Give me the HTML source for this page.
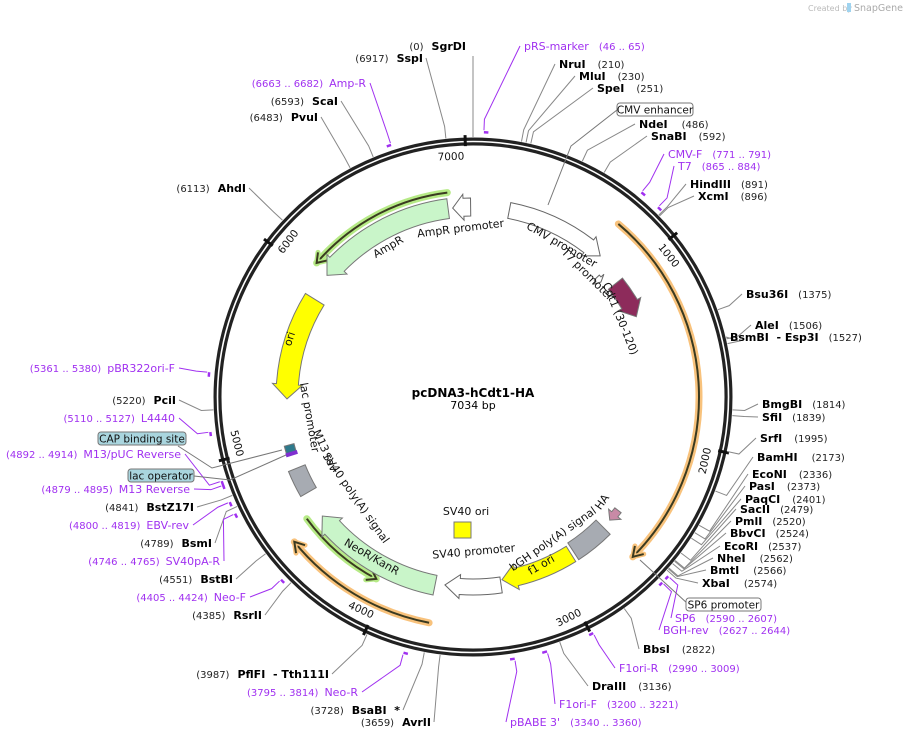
<!DOCTYPE html>
<html><head><meta charset="utf-8"><style>
html,body{margin:0;padding:0;background:#fff;}
svg{display:block;font-family:"DejaVu Sans","Liberation Sans",sans-serif;}
.en{font-weight:bold;font-size:11px;fill:#000}
.ep{font-size:10px;fill:#222}
.pn{font-size:11px;fill:#a030f0}
.pp{font-size:10px;fill:#a030f0}
.fl{font-size:11px;fill:#111}
</style></head><body>
<svg id="map" width="905" height="743" viewBox="0 0 905 743" xmlns="http://www.w3.org/2000/svg">
<text x="808" y="11" font-size="8" fill="#bbb">Created by</text>
<rect x="847" y="3" width="4" height="9" fill="#9fd3ef"/>
<text x="854" y="11" font-size="9.5" fill="#aaa">SnapGene</text>
<g id="g"></g>
</svg>
<script>
const TOTAL = 7034;
const CX = 473, CY = 397;
// tick labels
const tickValues = [1000, 2000, 3000, 4000, 5000, 6000, 7000];
// features
const featNames = ["CMV promoter","T7 promoter","Cdt1 (30-120)","HA","bGH poly(A) signal","f1 ori","SV40 promoter","NeoR/KanR","SV40 poly(A) signal","lac promoter","ori","AmpR","AmpR promoter"];
const featStart = [215, 899, 1006, 2501, 2638, 2892, 3351, 3740, 4689, 4930, 5895, 6887, 7020];
const featEnd   = [821, 939, 1247, 2579, 2872, 3341, 3683, 4527, 4846, 4990, 5264, 6053, 6914];
const featRadius = [190, 172, 182, 184, 184, 185, 190, 192, 190, 190, 186, 190, 190];
const featWidth = [16, 7, 18, 8, 20, 18, 16, 20, 18, 10, 22, 20, 18];
const featFill = ["#fff","#fff","#8d2b5b","#c88aa6","#a7abb2","#ffff00","#fff","#c9f5c9","#a7abb2","#2e7a8c","#ffff00","#c9f5c9","#fff"];
const featArrow = [1, 1, 1, 1, 0, 1, 1, 1, 0, 0, 1, 1, 1];
// ORFs
const orfStart = [782, 3732, 6894, 4568];
const orfEnd   = [2638, 4513, 6069, 4064];
const orfRadius = [226, 230, 206, 206];
const orfColor = ["#f8c27c", "#f8c27c", "#b6ea86", "#b6ea86"];
// enzymes
const enzNames = ["SgrDI","SspI","ScaI","PvuI","AhdI","PciI","BstZ17I","BsmI","BstBI","RsrII","PflFI  - Tth111I","BsaBI  *","AvrII","NruI","MluI","SpeI","NdeI","SnaBI","HindIII","XcmI","Bsu36I","AleI","BsmBI  - Esp3I","BmgBI","SfiI","SrfI","BamHI","EcoNI","PasI","PaqCI","SacII","PmlI","BbvCI","EcoRI","NheI","BmtI","XbaI","BbsI","DraIII"];
const enzPos = [0,6917,6593,6483,6113,5220,4841,4789,4551,4385,3987,3728,3659,210,230,251,486,592,891,896,1375,1506,1527,1814,1839,1995,2173,2336,2373,2401,2479,2520,2524,2537,2562,2566,2574,2822,3136];
// primers
const primNames = ["Amp-R","pBR322ori-F","L4440","M13/pUC Reverse","M13 Reverse","EBV-rev","SV40pA-R","Neo-F","Neo-R","pRS-marker","CMV-F","T7","SP6","BGH-rev","F1ori-R","F1ori-F","pBABE 3'"];
const primStart = [6663,5361,5110,4892,4879,4800,4746,4405,3795,46,771,865,2590,2627,2990,3200,3340];
const primEnd = [6682,5380,5127,4914,4895,4819,4765,4424,3814,65,791,884,2607,2644,3009,3221,3360];

// ---- layout (label placement, not data) ----
const enzLX = [466,423,338,318,246,176,194,212,233,262,329,400,431,559,579,597,639,651,690,698,746,755,730,762,762,760,757,752,749,745,740,735,730,724,717,710,702,643,592];
const enzLY = [50,62,105,121,192,404,511,547,583,619,678,714,726,68,80,92,128,140,188,200,298,329,341,408,421,442,461,478,490,503,513,525,537,550,562,574,587,653,690];
const enzNumGap = [0,0,0,0,0,0,0,0,0,0,0,0,0,12,12,12,14,12,10,12,10,10,10,10,10,12,14,12,12,12,10,10,10,10,14,14,14,12,12];
const primLX = [366,175,175,181,190,189,220,246,358,524,668,678,675,663,619,559,510];
const primLY = [87,372,422,458,493,529,565,601,696,50,158,170,622,634,672,708,726];

const NS = "http://www.w3.org/2000/svg";
const G = document.getElementById('g');
function ang(p){ return p / TOTAL * 360; }
function pt(r, a){ const t = a * Math.PI / 180; return [CX + r * Math.sin(t), CY - r * Math.cos(t)]; }
function mk(tag, attrs, parent){ const e = document.createElementNS(NS, tag); for (const k in attrs) e.setAttribute(k, attrs[k]); (parent || G).appendChild(e); return e; }
function arcD(r, a1, a2){ const p1 = pt(r, a1), p2 = pt(r, a2); const large = Math.abs(a2 - a1) > 180 ? 1 : 0; const sw = a2 > a1 ? 1 : 0; return `M${p1[0]},${p1[1]} A${r},${r} 0 ${large} ${sw} ${p2[0]},${p2[1]}`; }
function ccwFix(s, e){ // interpret direction by array order
  return [ang(s), ang(e)];
}

// ring
const ring = mk('circle', {cx: CX, cy: CY, r: 255.5, fill: 'none', stroke: '#222', 'stroke-width': 8});


const ringGap = mk('circle', {cx: CX, cy: CY, r: 255.5, fill: 'none', stroke: '#fff', 'stroke-width': 1.6});



// ticks
tickValues.forEach(v => {
  const a = ang(v);
  const p1 = pt(251, a), p2 = pt(262, a);
  const t = mk('line', {x1: p1[0], y1: p1[1], x2: p2[0], y2: p2[1], stroke: '#111', 'stroke-width': 3});
  
  
  const lp = pt(241, a + (v === 7000 ? -3.5 : 3));
  const tx = mk('text', {x: lp[0], y: lp[1], 'font-size': 10.5, fill: '#111', 'text-anchor': 'middle', 'dominant-baseline': 'middle', transform: `rotate(${a > 90 && a < 270 ? a - 180 : a} ${lp[0]} ${lp[1]})`});
  tx.textContent = v;
  
  
});

// ORFs
orfStart.forEach((s, i) => {
  let a1 = ang(s), a2 = ang(orfEnd[i]);
  if (s > orfEnd[i] && s - orfEnd[i] > TOTAL / 2) a2 += 360;
  const r = orfRadius[i];
  const g = mk('g', {});
  
  
  mk('path', {d: arcD(r, a1, a2), fill: 'none', stroke: orfColor[i], 'stroke-width': 7, 'stroke-linecap': 'round'}, g);
  mk('path', {d: arcD(r, a1, a2), fill: 'none', stroke: '#3a3a20', 'stroke-width': 2}, g);
  const s2 = a2 > a1 ? -1 : 1;
  const tip = pt(r, a2), h1 = pt(r + 6, a2 + s2 * 2.4), h2 = pt(r - 6, a2 + s2 * 2.4);
  mk('path', {d: `M${h1[0]},${h1[1]} L${tip[0]},${tip[1]} L${h2[0]},${h2[1]}`, fill: 'none', stroke: orfColor[i], 'stroke-width': 5, 'stroke-linecap': 'round', 'stroke-linejoin': 'round'}, g);
  mk('path', {d: `M${h1[0]},${h1[1]} L${tip[0]},${tip[1]} L${h2[0]},${h2[1]}`, fill: 'none', stroke: '#3a3a20', 'stroke-width': 2}, g);
});

// features
featNames.forEach((n, i) => {
  let a1 = ang(featStart[i]), a2 = ang(featEnd[i]);
  const r = featRadius[i], w = featWidth[i];
  const s = a2 > a1 ? 1 : -1;
  const span = Math.abs(a2 - a1);
  const h = featArrow[i] ? Math.min(span * 0.6, 4.5) : 0;
  const ro = r + w / 2, ri = r - w / 2;
  let d;
  if (featArrow[i]) {
    const b = a2 - s * h;
    const A = pt(ro, a1), B = pt(ro, b), C = pt(ro + 4, b), T = pt(r, a2), D = pt(ri - 4, b), E = pt(ri, b), F = pt(ri, a1);
    const sw = s > 0 ? 1 : 0, sw2 = s > 0 ? 0 : 1;
    d = `M${A[0]},${A[1]} A${ro},${ro} 0 0 ${sw} ${B[0]},${B[1]} L${C[0]},${C[1]} L${T[0]},${T[1]} L${D[0]},${D[1]} L${E[0]},${E[1]} A${ri},${ri} 0 0 ${sw2} ${F[0]},${F[1]} Z`;
  } else {
    const A = pt(ro, a1), B = pt(ro, a2), E = pt(ri, a2), F = pt(ri, a1);
    const sw = s > 0 ? 1 : 0, sw2 = s > 0 ? 0 : 1;
    d = `M${A[0]},${A[1]} A${ro},${ro} 0 0 ${sw} ${B[0]},${B[1]} L${E[0]},${E[1]} A${ri},${ri} 0 0 ${sw2} ${F[0]},${F[1]} Z`;
  }
  const p = mk('path', {d: d, fill: featFill[i], stroke: featFill[i] === '#fff' ? '#666' : '#777', 'stroke-width': 1});
  
  
});
// extra small lac/CAP marks
[[4960, '#7f2fd0']].forEach(m => {
  const a = ang(m[0]);
  const p1 = pt(184, a - 1.2), p2 = pt(196, a - 1.2);
  const l = mk('line', {x1: p1[0], y1: p1[1], x2: p2[0], y2: p2[1], stroke: m[1], 'stroke-width': 4});
  
  
});
// SV40 ori box
const sv = mk('rect', {x: 454, y: 522, width: 17, height: 16, fill: '#ffff00', stroke: '#777'});



// feature labels (rotated)
const fLabels = [["CMV promoter",560,248,30],["T7 promoter",585,277,45],["Cdt1 (30-120)",617,320,68],["AmpR promoter",461,232,-7],["AmpR",390,250,-30],["ori",293,340,-72],["lac promoter",306,418,80],["M13 rev",322,452,66],["SV40 poly(A) signal",353,500,55],["NeoR/KanR",370,560,30],["SV40 ori",466,515,0],["SV40 promoter",474,555,-5],["bGH poly(A) signal",555,542,-35],["f1 ori",543,568,-30],["HA",605,504,-55]];
fLabels.forEach(f => {
  const t = mk('text', {x: f[1], y: f[2], class: 'fl', 'text-anchor': 'middle', transform: `rotate(${f[3]} ${f[1]} ${f[2]})`});
  t.textContent = f[0];
  
  
});

// enzymes
enzNames.forEach((n, i) => {
  const a = ang(enzPos[i]);
  const right = a < 180 && enzPos[i] !== 0;
  const p1 = pt(260, a), p2 = pt(272, a);
  const lx = right ? enzLX[i] - 4 : enzLX[i] + 3;
  const ly = enzLY[i] - 4;
  let ex = lx, ey = ly;
  if (enzPos[i] === 0) { ex = p2[0]; ey = enzLY[i] + 6; }
  const ln = mk('polyline', {points: `${p1[0]},${p1[1]} ${p2[0]},${p2[1]} ${ex},${ey}`, fill: 'none', stroke: '#888', 'stroke-width': 1});
  
  
  const t = mk('text', {x: enzLX[i], y: enzLY[i], 'text-anchor': right ? 'start' : 'end'});
  
  
  const num = '(' + enzPos[i] + ')';
  if (right) {
    const a1 = mk('tspan', {class: 'en'}, t); a1.textContent = n;
    const a2 = mk('tspan', {class: 'ep', dx: enzNumGap[i]}, t); a2.textContent = num;
  } else {
    const a1 = mk('tspan', {class: 'ep'}, t); a1.textContent = num;
    const a2 = mk('tspan', {class: 'en', dx: 8}, t); a2.textContent = n;
  }
  t.setAttribute('xml:space', 'preserve');
  t.style.whiteSpace = 'pre';
});

// primers
primNames.forEach((n, i) => {
  const am = ang((primStart[i] + primEnd[i]) / 2);
  const right = am < 180;
  const a1 = ang(primStart[i]), a2 = ang(primEnd[i]);
  const mkr = mk('path', {d: arcD(265, a1, a2), fill: 'none', stroke: '#a030f0', 'stroke-width': 2.5});
  
  
  const p1 = pt(267, right ? a1 : a2), p2 = pt(278, right ? a1 : a2);
  const lx = right ? primLX[i] - 4 : primLX[i] + 4;
  const ly = primLY[i] - 4;
  const ln = mk('polyline', {points: `${p1[0]},${p1[1]} ${p2[0]},${p2[1]} ${lx},${ly}`, fill: 'none', stroke: '#a030f0', 'stroke-width': 1});
  
  
  const t = mk('text', {x: primLX[i], y: primLY[i], 'text-anchor': right ? 'start' : 'end'});
  
  
  const rng = '(' + primStart[i] + ' .. ' + primEnd[i] + ')';
  if (right) {
    const s1 = mk('tspan', {class: 'pn'}, t); s1.textContent = n;
    const s2 = mk('tspan', {class: 'pp', dx: 10}, t); s2.textContent = rng;
  } else {
    const s1 = mk('tspan', {class: 'pp'}, t); s1.textContent = rng;
    const s2 = mk('tspan', {class: 'pn', dx: 6}, t); s2.textContent = n;
  }
});

// boxed feature callouts
const boxes = [["CMV enhancer",617,103,76,"#fff",[[617,110],[571,146],[548,205]]],["CAP binding site",98,432,88,"#a9d5de",[[178,446],[212,468],[282,450]]],["lac operator",128,469,66,"#a9d5de",[[194,476],[230,480],[286,455]]],["SP6 promoter",686,598,75,"#fff",[[688,604],[640,560]]]];
boxes.forEach(b => {
  const ln = mk('polyline', {points: b[5].map(p => p.join(',')).join(' '), fill: 'none', stroke: '#777', 'stroke-width': 1});
  
  
  const r = mk('rect', {x: b[1], y: b[2], width: b[3], height: 13, rx: 3, fill: b[4], stroke: '#777', 'stroke-width': 1});
  
  
  const t = mk('text', {x: b[1] + b[3] / 2, y: b[2] + 10.5, 'font-size': 10.5, fill: '#111', 'text-anchor': 'middle'});
  t.textContent = b[0];
  
  
});

// center title
const tt = mk('text', {x: CX, y: 397, 'font-size': 12, 'font-weight': 'bold', fill: '#000', 'text-anchor': 'middle'});
tt.textContent = 'pcDNA3-hCdt1-HA';


const ts = mk('text', {x: CX, y: 409, 'font-size': 11, fill: '#000', 'text-anchor': 'middle'});
ts.textContent = '7034 bp';


</script>
</body></html>
